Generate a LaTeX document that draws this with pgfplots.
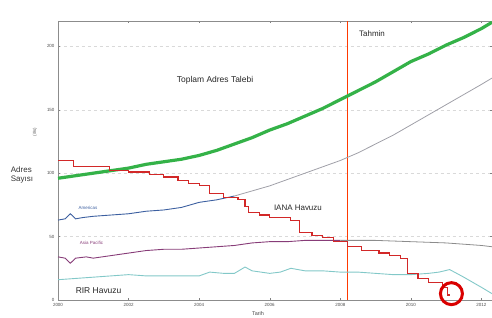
\documentclass[border=0pt]{standalone}
\usepackage{pgfplots}
\pgfplotsset{compat=1.18}
\usepackage{fontspec}
\setmainfont{Liberation Sans}
\definecolor{cgreen}{RGB}{52,178,72}
\definecolor{cred}{RGB}{210,40,40}
\definecolor{cblue}{RGB}{60,95,160}
\definecolor{cgray}{RGB}{160,160,168}
\definecolor{cpurple}{RGB}{135,60,120}
\definecolor{ccyan}{RGB}{130,200,200}
\begin{document}
\begin{tikzpicture}
\useasboundingbox (0,0) rectangle (492bp,318bp);
\begin{axis}[
  at={(58bp,18bp)}, anchor=south west,
  scale only axis, width=434bp, height=279bp,
  xmin=2000, xmax=2012.3, ymin=0, ymax=220,
  xtick={2000,2002,2004,2006,2008,2010,2012},
  xticklabels={2000,2002,2004,2006,2008,2010,2012},
  ytick={0,50,100,150,200},
  yticklabels={0,50,100,150,200},
  ticklabel style={font=\fontsize{4.5}{5}\selectfont, text=black!70},
  /pgf/number format/assume math mode=true,
  tick style={black!50},
  major tick length=2bp,
  axis line style={black!45, line width=0.8bp},
  ymajorgrids, grid style={black!15, dashed, line width=0.5bp},
  clip=false,
]
% forecast line
\addplot[draw=orange!45!red, line width=1.6bp] coordinates {(2008.2,0) (2008.2,220)};
% total demand (green)
\addplot[cgreen, line width=3.2bp] coordinates {
(2000.0,96) (2000.5,98) (2001,100) (2001.5,102) (2002,104) (2002.5,107)
(2003,109) (2003.5,111) (2004,114) (2004.5,118) (2005,123) (2005.5,128)
(2006,134) (2006.5,139) (2007,145) (2007.5,151) (2008,158) (2008.5,165)
(2009,172) (2009.5,180) (2010,188) (2010.5,194) (2011,201) (2011.5,207)
(2012,214) (2012.3,219)};
% Americas (blue then gray)
\addplot[cblue, line width=0.9bp] coordinates {
(2000.0,63) (2000.2,64) (2000.35,68) (2000.5,64) (2000.7,65) (2001,66)
(2001.5,67) (2002,68) (2002.5,70) (2003,71) (2003.5,73) (2004,77)
(2004.5,79) (2005,82)};
\addplot[cgray, line width=0.8bp] coordinates {
(2005,82) (2005.5,86) (2006,90) (2006.5,95) (2007,100) (2007.5,105)
(2008,110) (2008.5,116) (2009,123) (2009.5,130) (2010,138) (2010.5,146)
(2011,154) (2011.5,162) (2012,170) (2012.3,175)};
% Asia Pacific (purple then gray)
\addplot[cpurple, line width=0.9bp] coordinates {
(2000.0,34) (2000.2,33) (2000.35,29) (2000.5,33) (2000.8,34) (2001,33)
(2001.5,35) (2002,37) (2002.5,39) (2003,40) (2003.5,40) (2004,41)
(2004.5,42) (2005,43) (2005.5,45) (2006,46) (2006.5,46) (2007,47) (2008,47)};
\addplot[black!45, line width=0.8bp] coordinates {
(2008,47) (2009,47) (2010,46) (2011,45) (2012,43) (2012.3,42)};
% RIR pool (cyan)
\addplot[ccyan, line width=0.9bp] coordinates {
(2000.0,16) (2000.5,17) (2001,18) (2001.5,19) (2002,20) (2002.5,19)
(2003,19) (2003.5,19) (2004,19) (2004.3,22) (2004.7,21) (2005,21)
(2005.3,26) (2005.5,23) (2006,21) (2006.3,22) (2006.6,25) (2007,23)
(2007.5,23) (2008,22) (2008.5,22) (2009,21) (2009.5,20) (2010,20)
(2010.5,21) (2010.8,22) (2011.1,24) (2011.5,18) (2012,10) (2012.3,5)};
% IANA pool (red, stepwise)
\addplot[cred, line width=1.2bp, const plot] coordinates {
(2000.0,110) (2000.45,105) (2001.45,102) (2002.0,101) (2002.6,99) (2003.0,97)
(2003.4,94) (2003.7,92) (2004.0,90) (2004.3,84) (2004.7,81) (2005.1,79)
(2005.3,74) (2005.4,69) (2005.7,67) (2006.0,65) (2006.6,63) (2006.85,53)
(2007.2,51) (2007.5,49) (2007.8,46) (2008.2,42) (2008.6,39) (2009.1,37)
(2009.4,35) (2009.7,33) (2009.9,21) (2010.2,17) (2010.5,14) (2010.9,10)
(2011.05,4) (2011.1,4)};
% red circle highlight
\addplot[only marks, mark=o, mark size=11bp, draw=red!85!black, line width=3bp] coordinates {(2011.15,5)};
% labels
\node[font=\fontsize{8.5}{10}\selectfont, text=black!85] at (axis cs:2004.45,173) {Toplam Adres Talebi};
\node[font=\fontsize{8}{10}\selectfont, text=black!85] at (axis cs:2008.9,210) {Tahmin};
\node[font=\fontsize{8}{10}\selectfont, text=black!85] at (axis cs:2006.8,73) {IANA Havuzu};
\node[font=\fontsize{8.5}{10}\selectfont, text=black!85] at (axis cs:2001.15,7) {RIR Havuzu};
\node[font=\fontsize{4.5}{5}\selectfont, text=cblue] at (axis cs:2000.85,73) {Americas};
\node[font=\fontsize{4.5}{5}\selectfont, text=cpurple] at (axis cs:2000.95,45) {Asia Pacific};
\end{axis}
\node[font=\fontsize{8}{9.5}\selectfont, align=left, text=black!80] at (22bp,143bp) {Adres\\Sayısı};
\node[font=\fontsize{4.5}{5}\selectfont, rotate=90, text=black!60] at (35bp,186bp) {(/8s)};
\node[font=\fontsize{5.5}{6}\selectfont, text=black!70] at (258bp,4bp) {Tarih};
\end{tikzpicture}
\end{document}
